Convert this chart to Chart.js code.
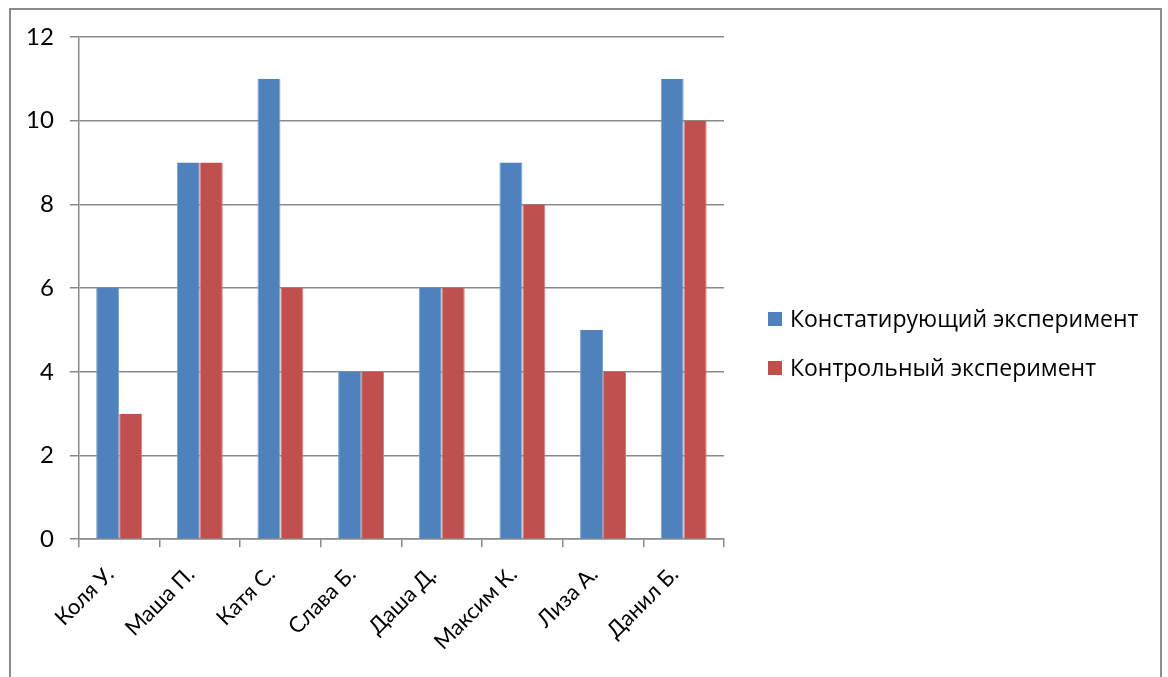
<!DOCTYPE html>
<html>
<head>
<meta charset="utf-8">
<script src="https://cdn.jsdelivr.net/npm/chart.js@4"></script>
<style>
  html, body { margin: 0; padding: 0; background: #ffffff; }
  #wrap { position: relative; width: 1168px; height: 677px; }
</style>
</head>
<body>
<div id="wrap"><canvas id="chart" width="1168" height="677"></canvas></div>
<script>
// Pupils and their scores in the two experiments
const categories = ['Коля У.', 'Маша П.', 'Катя С.', 'Слава Б.', 'Даша Д.', 'Максим К.', 'Лиза А.', 'Данил Б.'];
const statingValues = [6, 9, 11, 4, 6, 9, 5, 11];
const controlValues = [3, 9, 6, 4, 6, 8, 4, 10];
const yTicks = [0, 2, 4, 6, 8, 10, 12];

const FONT = 'Lato, "Open Sans", sans-serif';
const FONT_SIZE = 24;
const X_FONT_SIZE = 22;
const KEY_FONT = '"Open Sans", Lato, sans-serif';
const KEY_FONT_SIZE = 23;

// Gray frame around the whole chart
const framePlugin = {
  id: 'frame',
  afterDraw(chart) {
    const ctx = chart.ctx;
    ctx.save();
    ctx.strokeStyle = '#8c8c8c';
    ctx.lineWidth = 2;
    ctx.strokeRect(10, 9, 1151, 720);
    ctx.restore();
  }
};

// Series key to the right of the plot, built from the datasets
const sideLegendPlugin = {
  id: 'sideLegend',
  afterDraw(chart) {
    const ctx = chart.ctx;
    const sets = chart.data.datasets;
    const x = chart.chartArea.right + 44;
    const rowGap = 49;
    const top = 319;
    ctx.save();
    ctx.font = KEY_FONT_SIZE + 'px ' + KEY_FONT;
    ctx.textBaseline = 'middle';
    ctx.textAlign = 'left';
    sets.forEach((ds, i) => {
      const cy = top + i * rowGap;
      ctx.fillStyle = ds.backgroundColor;
      ctx.fillRect(x, cy - 7, 14, 14);
      ctx.fillStyle = '#000';
      ctx.fillText(ds.label, x + 22, cy + 1);
    });
    ctx.restore();
  }
};

function build() {
  new Chart(document.getElementById('chart'), {
    type: 'bar',
    data: {
      labels: categories,
      datasets: [
        {
          label: 'Констатирующий эксперимент',
          data: statingValues,
          backgroundColor: '#4f81bd',
          borderColor: '#7a9fd0',
          borderWidth: { left: 1, right: 1, top: 0, bottom: 0 }
        },
        {
          label: 'Контрольный эксперимент',
          data: controlValues,
          backgroundColor: '#c0504d',
          borderColor: '#d07f7d',
          borderWidth: { left: 1, right: 1, top: 0, bottom: 0 }
        }
      ]
    },
    options: {
      responsive: false,
      animation: false,
      categoryPercentage: 0.57,
      barPercentage: 1.0,
      layout: { padding: { left: 10, top: 37, right: 444, bottom: 8 } },
      plugins: {
        legend: { display: false },
        tooltip: { enabled: false }
      },
      scales: {
        x: {
          grid: {
            offset: true,
            drawOnChartArea: false,
            drawTicks: true,
            tickLength: 8,
            color: '#8a8a8a',
            lineWidth: 1.5
          },
          border: { color: '#8a8a8a', width: 1.5 },
          ticks: {
            color: '#000',
            font: { family: FONT, size: X_FONT_SIZE },
            autoSkip: false,
            minRotation: 45,
            maxRotation: 45,
            padding: 14,
            labelOffset: -9
          }
        },
        y: {
          min: 0,
          max: 12,
          afterBuildTicks(axis) {
            axis.ticks = yTicks.map(v => ({ value: v }));
          },
          grid: {
            color: '#8a8a8a',
            lineWidth: 1.5,
            drawTicks: true,
            tickLength: 9
          },
          border: { color: '#8a8a8a', width: 1.5 },
          ticks: {
            color: '#000',
            font: { family: FONT, size: FONT_SIZE },
            padding: 16
          }
        }
      }
    },
    plugins: [framePlugin, sideLegendPlugin]
  });
}

Promise.all([
  document.fonts.load(FONT_SIZE + 'px Lato'),
  document.fonts.load(KEY_FONT_SIZE + 'px "Open Sans"')
]).then(build, build);
</script>
</body>
</html>
